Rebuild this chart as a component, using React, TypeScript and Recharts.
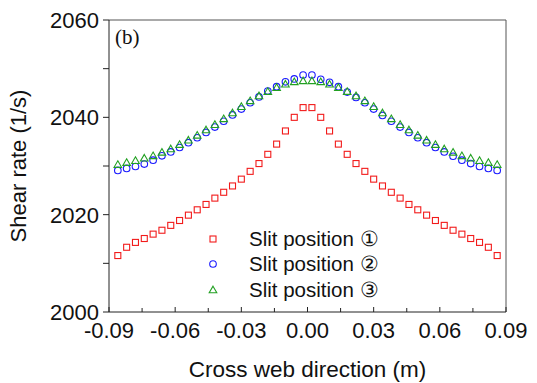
import React from "react";
import {
  ScatterChart,
  Scatter,
  XAxis,
  YAxis,
  ReferenceLine,
} from "recharts";

// cross web positions (m)
const X_POS = [
  -0.086, -0.082, -0.078, -0.074, -0.07, -0.066, -0.062, -0.058, -0.054, -0.05, -0.046,
  -0.042, -0.038, -0.034, -0.03, -0.026, -0.022, -0.018, -0.014, -0.01, -0.006, -0.002,
  0.002, 0.006, 0.01, 0.014, 0.018, 0.022, 0.026, 0.03, 0.034, 0.038, 0.042, 0.046, 0.05,
  0.054, 0.058, 0.062, 0.066, 0.07, 0.074, 0.078, 0.082, 0.086,
];

const SLIT_1 = [
  2011.6, 2013.3, 2014.3, 2015.1, 2016.0, 2016.8, 2017.8, 2018.8, 2019.9, 2021.0, 2022.1,
  2023.4, 2024.6, 2025.9, 2027.3, 2028.9, 2030.5, 2032.4, 2034.5, 2037.2, 2040.0, 2042.0,
  2042.0, 2040.0, 2037.2, 2034.5, 2032.4, 2030.5, 2028.9, 2027.3, 2025.9, 2024.6, 2023.4,
  2022.1, 2021.0, 2019.9, 2018.8, 2017.8, 2016.8, 2016.0, 2015.1, 2014.3, 2013.3, 2011.6,
];

const SLIT_2 = [
  2029.1, 2029.5, 2029.9, 2030.4, 2031.2, 2032.1, 2032.9, 2033.8, 2034.8, 2035.8, 2036.9,
  2038.0, 2039.2, 2040.5, 2041.7, 2043.0, 2044.2, 2045.4, 2046.3, 2047.3, 2047.9, 2048.7,
  2048.7, 2047.8, 2047.2, 2046.3, 2045.2, 2044.1, 2043.0, 2041.7, 2040.4, 2039.2, 2038.0,
  2036.9, 2035.8, 2034.8, 2033.8, 2032.9, 2032.0, 2031.2, 2030.5, 2029.9, 2029.5, 2029.1,
];

const SLIT_3 = [
  2030.3, 2030.7, 2031.1, 2031.6, 2032.1, 2032.8, 2033.5, 2034.4, 2035.3, 2036.3, 2037.4,
  2038.5, 2039.7, 2040.9, 2042.2, 2043.4, 2044.4, 2045.3, 2046.1, 2046.8, 2047.3, 2047.5,
  2047.5, 2047.3, 2046.8, 2046.1, 2045.3, 2044.4, 2043.4, 2042.2, 2040.9, 2039.7, 2038.5,
  2037.4, 2036.3, 2035.3, 2034.4, 2033.5, 2032.8, 2032.1, 2031.6, 2031.1, 2030.7, 2030.3,
];

const X_TICKS = [-0.09, -0.075, -0.06, -0.045, -0.03, -0.015, 0, 0.015, 0.03, 0.045, 0.06, 0.075, 0.09];
const Y_TICKS = [2000, 2010, 2020, 2030, 2040, 2050, 2060];

const SANS = "'Liberation Sans', Arial, sans-serif";
const AXIS = "#222";

const RED = "#f21b1b";
const BLUE = "#1a1aff";
const GREEN = "#22a022";

const toPoints = (ys: number[]) => X_POS.map((x, i) => ({ x, y: ys[i] }));

function Square({ cx, cy, color }: any) {
  return <rect x={cx - 3} y={cy - 3} width={6} height={6} fill="none" stroke={color} strokeWidth={1.1} />;
}
function Circle({ cx, cy, color }: any) {
  return <circle cx={cx} cy={cy} r={3.3} fill="none" stroke={color} strokeWidth={1.1} />;
}
function Triangle({ cx, cy, color }: any) {
  return (
    <polygon
      points={`${cx},${cy - 3.8} ${cx + 3.8},${cy + 2.8} ${cx - 3.8},${cy + 2.8}`}
      fill="none"
      stroke={color}
      strokeWidth={1.1}
    />
  );
}

const SERIES = [
  { name: "Slit position \u2460", data: SLIT_1, color: RED, Mark: Square },
  { name: "Slit position \u2461", data: SLIT_2, color: BLUE, Mark: Circle },
  { name: "Slit position \u2462", data: SLIT_3, color: GREEN, Mark: Triangle },
];

// x ticks point inward, labels only every 0.03
function XTick({ x, y, payload }: any) {
  const v = payload.value;
  const major = Math.abs(Math.round(v * 1000) % 30) === 0;
  return (
    <g>
      <line x1={x} x2={x} y1={y} y2={y - (major ? 5 : 4)} stroke={AXIS} />
      {major && (
        <text x={x} y={y + 26} textAnchor="middle" fontFamily={SANS} fontSize={22} fill="#111">
          {v.toFixed(2)}
        </text>
      )}
    </g>
  );
}

function YTick({ x, y, payload }: any) {
  const v = payload.value;
  const major = v % 20 === 0;
  return (
    <g>
      <line x1={x} x2={x - 6} y1={y} y2={y} stroke={AXIS} />
      {major && (
        <text x={x - 10} y={y + 8} textAnchor="end" fontFamily={SANS} fontSize={22} fill="#111">
          {v}
        </text>
      )}
    </g>
  );
}

function LegendBox() {
  return (
    <div style={{ position: "absolute", left: 206, top: 226, fontFamily: SANS, fontSize: 20.5, color: "#111" }}>
      {SERIES.map((s) => (
        <div key={s.name} style={{ display: "flex", alignItems: "center", height: 25.5 }}>
          <svg width={14} height={14} style={{ marginRight: 29 }}>
            <s.Mark cx={7} cy={7} color={s.color} />
          </svg>
          <span>{s.name}</span>
        </div>
      ))}
    </div>
  );
}

export default function App() {
  return (
    <div style={{ position: "absolute", left: 0, top: 0, width: 537, height: 383, background: "#fff" }}>
      <ScatterChart width={537} height={383} margin={{ top: 20, right: 31, bottom: 31, left: 0 }}>
        <XAxis
          type="number"
          dataKey="x"
          domain={[-0.09, 0.09]}
          ticks={X_TICKS}
          interval={0}
          height={40}
          tickSize={0}
          tickMargin={0}
          tickLine={false}
          tick={<XTick />}
          stroke={AXIS}
          allowDataOverflow
          label={{
            value: "Cross web direction (m)",
            position: "insideBottom",
            offset: -25,
            style: { fontFamily: SANS, fontSize: 22.5, fill: "#111" },
          }}
        />
        <YAxis
          type="number"
          dataKey="y"
          domain={[2000, 2060]}
          ticks={Y_TICKS}
          interval={0}
          width={109}
          tickSize={0}
          tickMargin={0}
          tickLine={false}
          tick={<YTick />}
          stroke={AXIS}
          allowDataOverflow
          label={{
            value: "Shear rate (1/s)",
            angle: -90,
            position: "insideLeft",
            offset: 18,
            style: { fontFamily: SANS, fontSize: 22, fill: "#111", textAnchor: "middle" },
          }}
        />
        <ReferenceLine y={2060} stroke="#555" strokeWidth={1} />
        <ReferenceLine x={0.09} stroke="#555" strokeWidth={1} />
        {SERIES.map((s) => (
          <Scatter
            key={s.name}
            name={s.name}
            data={toPoints(s.data)}
            isAnimationActive={false}
            shape={(p: any) => <s.Mark cx={p.cx} cy={p.cy} color={s.color} />}
          />
        ))}
      </ScatterChart>
      <LegendBox />
      <div
        style={{
          position: "absolute",
          left: 115,
          top: 25,
          fontFamily: "'Liberation Serif', 'Times New Roman', serif",
          fontSize: 21,
          color: "#111",
        }}
      >
        (b)
      </div>
    </div>
  );
}
